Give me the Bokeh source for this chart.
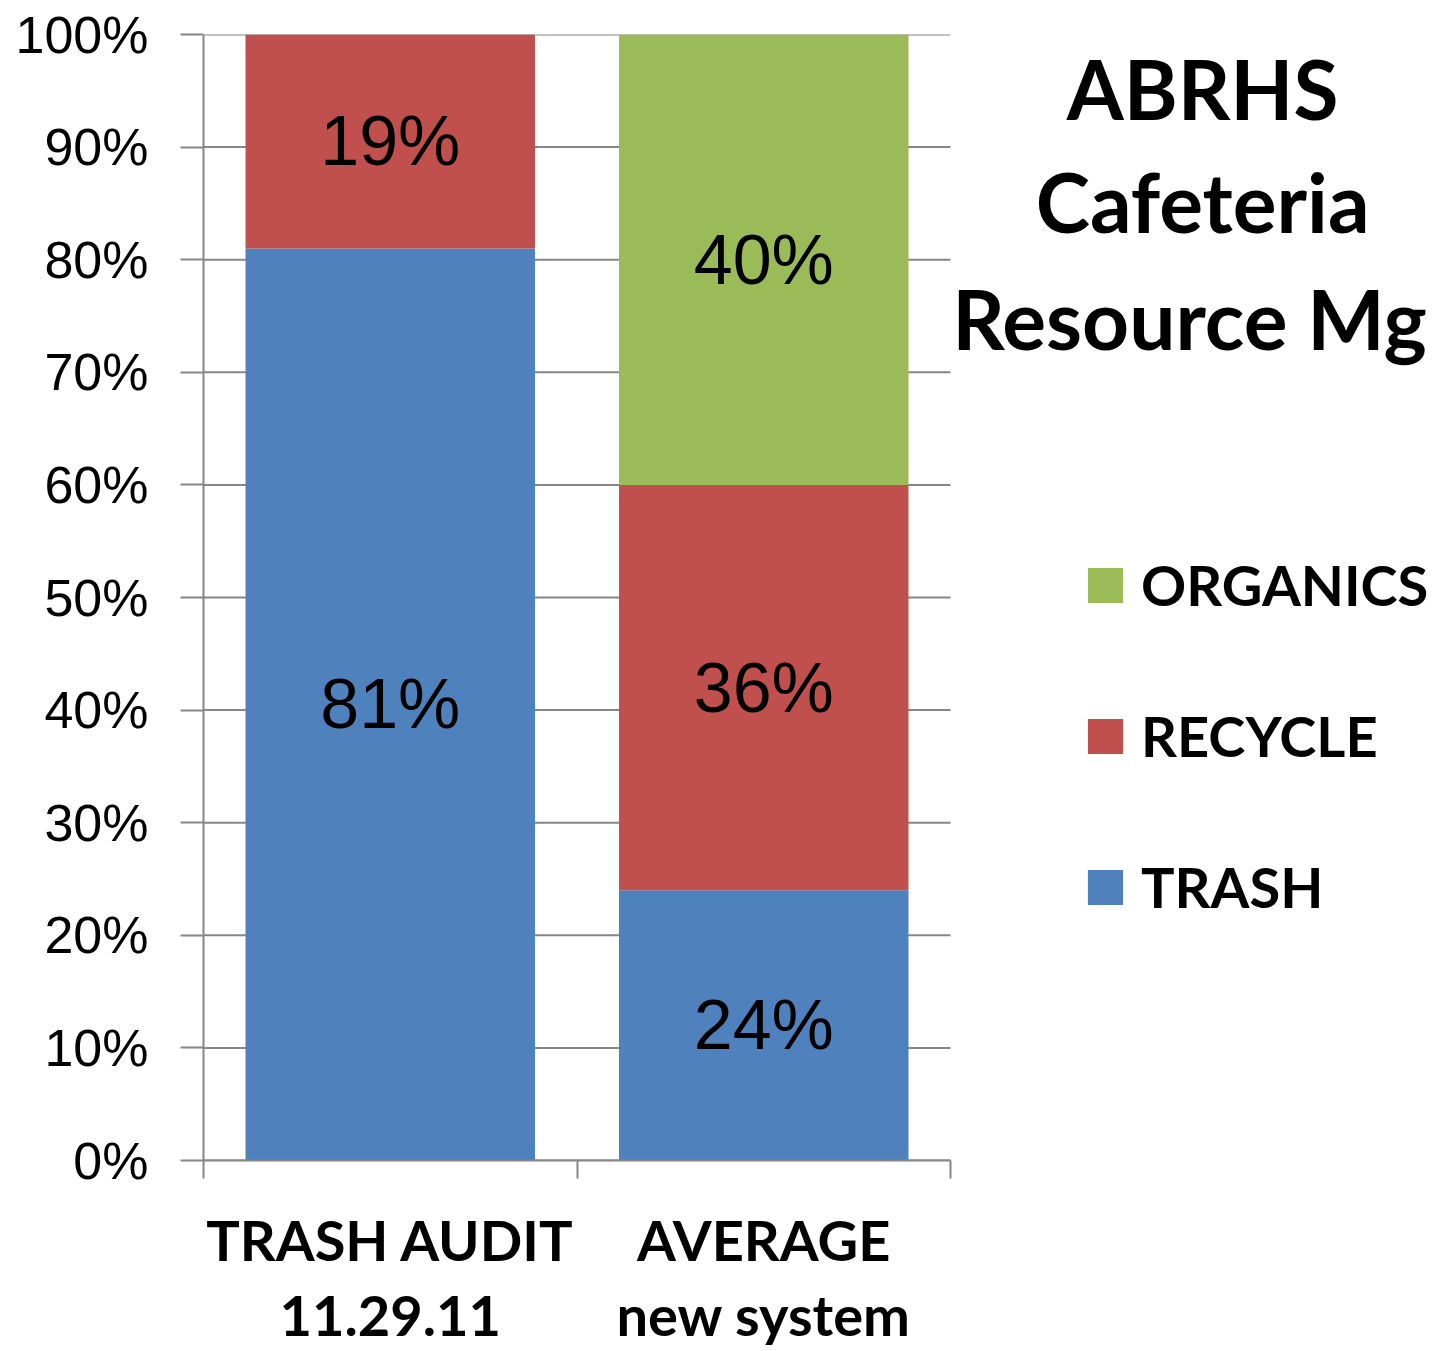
import numpy as np
from bokeh.plotting import figure
from bokeh.models import (ColumnDataSource, Range1d, FixedTicker, LinearAxis, Legend, LegendItem,
                          Label, PrintfTickFormatter)
from bokeh.core.properties import value
from bokeh.embed import file_html
from bokeh.resources import INLINE

# ---- data ----
cat_line1 = ["TRASH AUDIT", "AVERAGE"]
cat_line2 = ["11.29.11", "new system"]
series = ["TRASH", "RECYCLE", "ORGANICS"]
trash = [81, 24]
recycle = [19, 36]
organics = [0, 40]
colors = ["#4F81BD", "#C0504D", "#9BBB59"]
y_ticks = [0, 10, 20, 30, 40, 50, 60, 70, 80, 90, 100]
title_lines = ["ABRHS", "Cafeteria", "Resource Mg"]

GRAY = "#868686"
n = len(cat_line1)
xpos = np.arange(n) + 0.5
X_MAX = 1228 / 373.5  # extra room on the right for title and legend

source = ColumnDataSource(dict(x=xpos, TRASH=trash, RECYCLE=recycle, ORGANICS=organics))

p = figure(frame_width=1228, frame_height=1126,
           min_border_left=203, min_border_right=0, min_border_top=34, min_border_bottom=183,
           x_range=Range1d(0, X_MAX), y_range=Range1d(0, 100),
           output_backend="svg", toolbar_location=None, x_axis_location=None, y_axis_location=None)
p.outline_line_color = None
p.background_fill_color = "white"
p.border_fill_color = "white"
p.xgrid.grid_line_color = None
p.ygrid.grid_line_color = None

# horizontal gridlines limited to the bar area
p.segment(x0=[0] * len(y_ticks), x1=[n] * len(y_ticks), y0=y_ticks, y1=y_ticks,
          line_color=GRAY, line_width=2)

renderers = p.vbar_stack(series, x="x", width=0.775, color=colors, line_color=None, source=source)

# y axis
yax = LinearAxis(ticker=FixedTicker(ticks=y_ticks), formatter=PrintfTickFormatter(format="%d%%"))
yax.axis_line_color = GRAY
yax.axis_line_width = 2
yax.major_tick_line_color = GRAY
yax.major_tick_line_width = 2
yax.major_tick_out = 23
yax.major_tick_in = 0
yax.minor_tick_line_color = None
yax.major_label_text_font = "Liberation Sans"
yax.major_label_text_font_size = "52px"
yax.major_label_text_color = "black"
yax.major_label_standoff = 32
p.add_layout(yax, "left")

# x axis line 1 (with boundary ticks as minor ticks)
ax1 = LinearAxis(ticker=FixedTicker(ticks=list(xpos), minor_ticks=list(range(n + 1))), bounds=(0, n))
ax1.major_label_overrides = {float(x): t for x, t in zip(xpos, cat_line1)}
ax1.axis_line_color = GRAY
ax1.axis_line_width = 2
ax1.major_tick_line_color = None
ax1.major_tick_out = 0
ax1.major_tick_in = 0
ax1.minor_tick_line_color = GRAY
ax1.minor_tick_line_width = 2
ax1.minor_tick_out = 18
ax1.minor_tick_in = 0
ax1.major_label_text_font = "Lato"
ax1.major_label_text_font_style = "bold"
ax1.major_label_text_font_size = "56px"
ax1.major_label_text_color = "black"
ax1.major_label_standoff = 27
p.add_layout(ax1, "below")

ax2 = LinearAxis(ticker=FixedTicker(ticks=list(xpos)), bounds=(0, n))
ax2.major_label_overrides = {float(x): t for x, t in zip(xpos, cat_line2)}
ax2.axis_line_color = None
ax2.major_tick_line_color = None
ax2.minor_tick_line_color = None
ax2.major_tick_out = 0
ax2.major_tick_in = 0
ax2.major_label_text_font = "Lato"
ax2.major_label_text_font_style = "bold"
ax2.major_label_text_font_size = "56px"
ax2.major_label_text_color = "black"
ax2.major_label_standoff = 5
p.add_layout(ax2, "below")

# data labels
lx, ly, lt = [], [], []
vals = [trash, recycle, organics]
bottom = np.zeros(n)
for v in vals:
    v = np.array(v, dtype=float)
    for i in range(n):
        if v[i] > 0:
            lx.append(xpos[i])
            ly.append(bottom[i] + v[i] / 2)
            lt.append(f"{int(v[i])}%")
    bottom = bottom + v
p.text(x=lx, y=ly, text=lt, text_align="center", text_baseline="middle",
       text_font=value("Liberation Sans"), text_font_size="70px", text_color="black")

# legend
items = [LegendItem(label=s, renderers=[r]) for s, r in zip(series, renderers)][::-1]
legend = Legend(items=items, location=(880, 240), orientation="vertical",
                glyph_width=44, glyph_height=44, label_standoff=14, spacing=84,
                padding=0, margin=0, border_line_color=None, background_fill_alpha=0,
                label_text_font="Lato", label_text_font_style="bold",
                label_text_font_size="56px", label_text_color="black")
p.add_layout(legend)

# title block
title_y = [95.29, 85.17, 74.78]
title_x = [2.675, 2.675, 2.64]
for t, tx, ty in zip(title_lines, title_x, title_y):
    p.add_layout(Label(x=tx, y=ty, text=t, text_align="center", text_baseline="alphabetic",
                       text_font="Lato", text_font_style="bold", text_font_size="82px",
                       text_color="black"))

open("out.html", "w").write(file_html(p, INLINE))
